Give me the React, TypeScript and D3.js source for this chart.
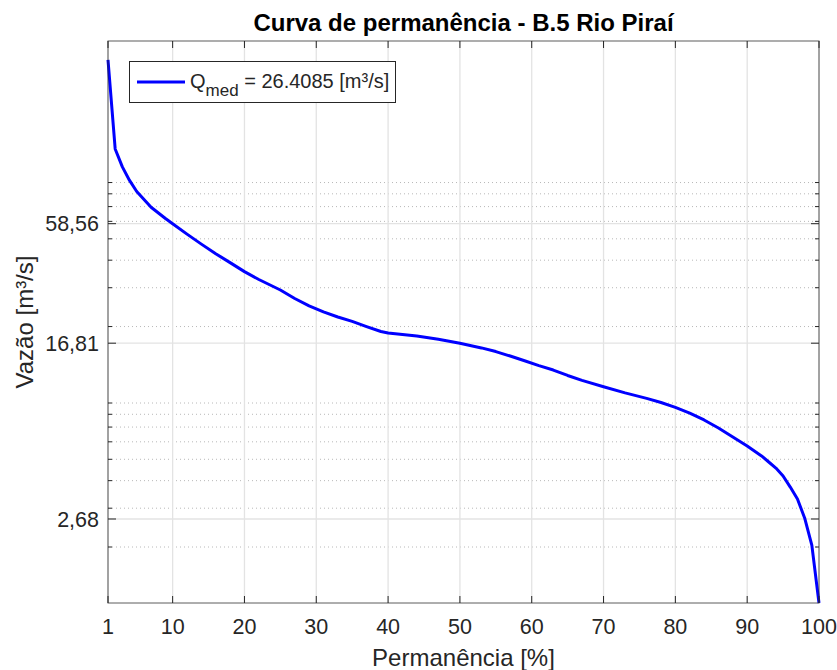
import React from "react";
import * as d3 from "d3";

const permanence = [1, 2, 3, 4, 5, 7, 9, 10, 12, 14, 16, 18, 20, 22, 25, 27, 29, 31, 33, 35, 37, 39, 40, 44, 47, 50, 53, 55, 57, 59, 61, 63, 65, 67, 70, 73, 76, 78, 80, 82, 84, 86, 88, 90, 92, 93, 94, 95, 96, 97, 98, 99, 100];
const flow = [323.7, 127.8, 106, 92, 82, 69.5, 61.8, 58.56, 52.5, 47.3, 42.8, 39.0, 35.5, 32.7, 29.3, 26.8, 24.8, 23.3, 22.1, 21.1, 20.0, 19.0, 18.7, 18.1, 17.5, 16.81, 16.0, 15.4, 14.7, 14.0, 13.3, 12.7, 12.0, 11.4, 10.67, 10.0, 9.45, 9.05, 8.6, 8.1, 7.54, 6.93, 6.31, 5.74, 5.18, 4.86, 4.56, 4.2, 3.74, 3.3, 2.71, 2.04, 1.114];

const xTicks = [1, 10, 20, 30, 40, 50, 60, 70, 80, 90, 100];
const yTicks = [2.68, 16.81, 58.56];
const yTickLabels = ["2,68", "16,81", "58,56"];
const yMinorTicks = [2, 3, 4, 5, 6, 7, 8, 9, 20, 30, 40, 50, 60, 70, 80, 90];
const yLimits = [1.1145, 394.7];
const xLimits = [1, 100];

const titleText = "Curva de permanência - B.5 Rio Piraí";
const xLabelText = "Permanência [%]";
const yLabelText = "Vazão [m³/s]";
const legendValue = " = 26.4085 [m³/s]";

export default function App() {
  const W = 837, H = 670;
  const L = 108, R = 819, T = 41, B = 603;
  const x = d3.scaleLinear().domain(xLimits).range([L, R]);
  const y = d3.scaleLog().domain(yLimits).range([B, T]);
  const pts = permanence.map((p, i) => [p, flow[i]] as [number, number]);
  const line = d3.line<[number, number]>().x(d => x(d[0])).y(d => y(d[1]));
  const axisColor = "#262626";
  const font = "'Liberation Sans', Arial, Helvetica, sans-serif";
  return (
    <svg width={W} height={H} style={{ display: "block", position: "absolute", left: 0, top: 0 }} fontFamily={font}>
      <rect x={0} y={0} width={W} height={H} fill="#ffffff" />
      <rect x={L} y={T} width={R - L} height={B - T} fill="#ffffff" />
      {/* minor grid */}
      {yMinorTicks.map(v => (
        <line key={"mg" + v} x1={L} x2={R} y1={y(v)} y2={y(v)} stroke="#b8b8b8" strokeWidth={1} strokeDasharray="1,3" />
      ))}
      {/* major grid */}
      {xTicks.map(v => (
        <line key={"gx" + v} x1={x(v)} x2={x(v)} y1={T} y2={B} stroke="#e3e3e3" strokeWidth={1.3} />
      ))}
      {yTicks.map(v => (
        <line key={"gy" + v} x1={L} x2={R} y1={y(v)} y2={y(v)} stroke="#e3e3e3" strokeWidth={1.3} />
      ))}
      {/* curve */}
      <path d={line(pts) || ""} fill="none" stroke="#0000ff" strokeWidth={3} strokeLinejoin="round" />
      {/* axes box */}
      <rect x={L} y={T} width={R - L} height={B - T} fill="none" stroke={axisColor} strokeWidth={1} opacity={0.75} />
      {/* x ticks */}
      {xTicks.map(v => (
        <g key={"xt" + v}>
          <line x1={x(v)} x2={x(v)} y1={B} y2={B - 7} stroke={axisColor} strokeWidth={1} />
          <line x1={x(v)} x2={x(v)} y1={T} y2={T + 7} stroke={axisColor} strokeWidth={1} />
          <text x={x(v)} y={B + 31} textAnchor="middle" fontSize={21.5} fill={axisColor}>{v}</text>
        </g>
      ))}
      {/* y ticks */}
      {yTicks.map((v, i) => (
        <g key={"yt" + v}>
          <line x1={L} x2={L + 8} y1={y(v)} y2={y(v)} stroke={axisColor} strokeWidth={1} />
          <line x1={R} x2={R - 8} y1={y(v)} y2={y(v)} stroke={axisColor} strokeWidth={1} />
          <text x={L - 9} y={y(v)} dy="0.36em" textAnchor="end" fontSize={21.5} fill={axisColor}>{yTickLabels[i]}</text>
        </g>
      ))}
      {yMinorTicks.map(v => (
        <g key={"ymt" + v}>
          <line x1={L} x2={L + 4} y1={y(v)} y2={y(v)} stroke={axisColor} strokeWidth={1} />
          <line x1={R} x2={R - 4} y1={y(v)} y2={y(v)} stroke={axisColor} strokeWidth={1} />
        </g>
      ))}
      {/* title */}
      <text x={(L + R) / 2} y={31} textAnchor="middle" fontSize={24} fontWeight="bold" fill="#000">{titleText}</text>
      {/* x label */}
      <text x={(L + R) / 2} y={666} textAnchor="middle" fontSize={24} fill={axisColor}>{xLabelText}</text>
      {/* y label */}
      <text transform={`translate(33, ${(T + B) / 2}) rotate(-90)`} textAnchor="middle" fontSize={24} fill={axisColor}>{yLabelText}</text>
      {/* legend */}
      <rect x={129.5} y={61.5} width={266} height={41} fill="#ffffff" stroke={axisColor} strokeWidth={1} />
      <line x1={137} x2={185} y1={82} y2={82} stroke="#0000ff" strokeWidth={3} />
      <text x={190} y={88} fontSize={20} fill={axisColor}>
        Q
        <tspan fontSize={17} dy={8}>med</tspan>
        <tspan dy={-8}>{legendValue}</tspan>
      </text>
    </svg>
  );
}
